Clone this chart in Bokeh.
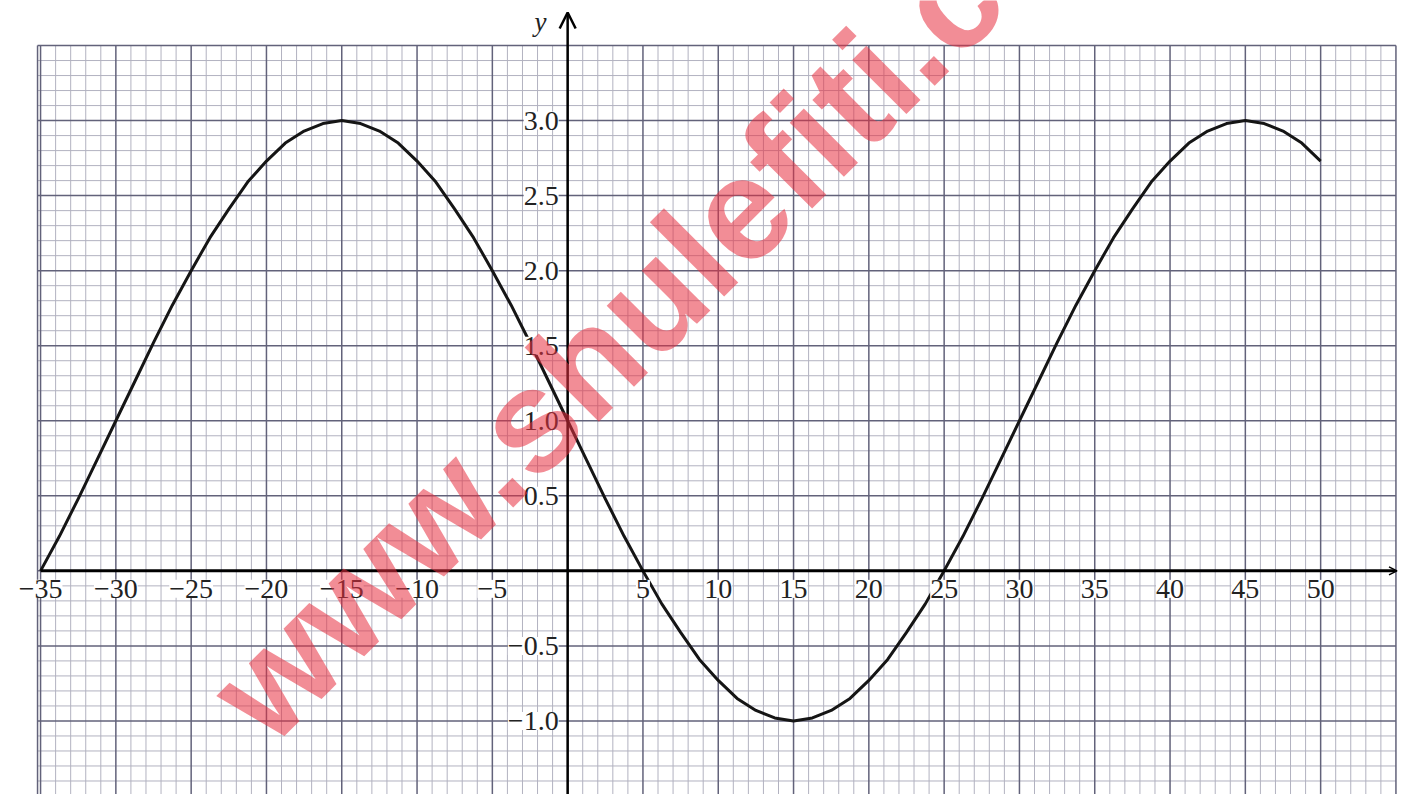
import numpy as np
from bokeh.plotting import figure
from bokeh.models import Range1d, Arrow, OpenHead, Label, LabelSet, ColumnDataSource
from bokeh.core.properties import value
from bokeh.embed import file_html
from bokeh.resources import INLINE

# ---- data ----
x_vals = [-35, -33.75, -32.5, -31.25, -30, -28.75, -27.5, -26.25, -25, -23.75, -22.5, -21.25,
          -20, -18.75, -17.5, -16.25, -15, -13.75, -12.5, -11.25, -10, -8.75, -7.5, -6.25,
          -5, -3.75, -2.5, -1.25, 0, 1.25, 2.5, 3.75, 5, 6.25, 7.5, 8.75, 10, 11.25, 12.5,
          13.75, 15, 16.25, 17.5, 18.75, 20, 21.25, 22.5, 23.75, 25, 26.25, 27.5, 28.75, 30,
          31.25, 32.5, 33.75, 35, 36.25, 37.5, 38.75, 40, 41.25, 42.5, 43.75, 45, 46.25, 47.5,
          48.75, 50]
y_vals = [0.00, 0.23, 0.48, 0.74, 1.00, 1.26, 1.52, 1.77, 2.00, 2.22, 2.41, 2.59,
          2.73, 2.85, 2.93, 2.98, 3.00, 2.98, 2.93, 2.85, 2.73, 2.59, 2.41, 2.22,
          2.00, 1.77, 1.52, 1.26, 1.00, 0.74, 0.48, 0.23, 0.00, -0.22, -0.41, -0.59, -0.73,
          -0.85, -0.93, -0.98, -1.00, -0.98, -0.93, -0.85, -0.73, -0.59, -0.41, -0.22, 0.00,
          0.23, 0.48, 0.74, 1.00, 1.26, 1.52, 1.77, 2.00, 2.22, 2.41, 2.59, 2.73, 2.85, 2.93,
          2.98, 3.00, 2.98, 2.93, 2.85, 2.73]

x_ticks = [-35, -30, -25, -20, -15, -10, -5, 5, 10, 15, 20, 25, 30, 35, 40, 45, 50]
x_tick_labels = ["\u221235", "\u221230", "\u221225", "\u221220", "\u221215", "\u221210", "\u22125",
                 "5", "10", "15", "20", "25", "30", "35", "40", "45", "50"]
y_ticks = [3.0, 2.5, 2.0, 1.5, 1.0, 0.5, -0.5, -1.0]
y_tick_labels = ["3.0", "2.5", "2.0", "1.5", "1.0", "0.5", "\u22120.5", "\u22121.0"]

watermark = "www.shulefiti.co.ke"

# ---- layout ----
W, H = 1398, 794
X0, X1 = -37.66, 55.17
Y0, Y1 = -1.49, 3.80
PAPER_X = (-35.2, 55.0)
PAPER_Y = (-1.6, 3.5)

p = figure(width=W, height=H, x_range=Range1d(X0, X1), y_range=Range1d(Y0, Y1),
           output_backend="svg", toolbar_location=None, min_border=0)
p.axis.visible = False
p.grid.visible = False
p.outline_line_color = None
p.background_fill_color = "white"
p.border_fill_color = "white"

# graph paper
minor_x = [v for v in np.arange(-35, 56, 1) if v % 5 != 0]
major_x = [v for v in np.arange(-35, 56, 5)]
minor_y = [round(v, 2) for v in np.arange(-1.6, 3.51, 0.1) if abs(round(v * 2, 3) - round(v * 2)) > 1e-6]
major_y = [round(v, 2) for v in np.arange(-1.5, 3.51, 0.5)]

p.segment(x0=minor_x, y0=PAPER_Y[0], x1=minor_x, y1=PAPER_Y[1], line_color="#b2b2c0", line_width=1)
p.segment(x0=PAPER_X[0], y0=minor_y, x1=PAPER_X[1], y1=minor_y, line_color="#b2b2c0", line_width=1)
p.segment(x0=major_x, y0=PAPER_Y[0], x1=major_x, y1=PAPER_Y[1], line_color="#62627a", line_width=1.5)
p.segment(x0=PAPER_X[0], y0=major_y, x1=PAPER_X[1], y1=major_y, line_color="#62627a", line_width=1.5)
p.segment(x0=PAPER_X[0], y0=PAPER_Y[0], x1=PAPER_X[0], y1=PAPER_Y[1], line_color="#62627a", line_width=1.5)

# axes
p.add_layout(Arrow(x_start=0, y_start=Y0, x_end=0, y_end=3.72, line_width=2.5, line_color="black",
                   end=OpenHead(size=16, line_width=2.5, line_color="black")))
p.add_layout(Arrow(x_start=-35, y_start=0, x_end=X1 - 0.1, y_end=0, line_width=3, line_color="black",
                   end=OpenHead(size=8, line_width=1.5, line_color="black")))

# tick labels (white background like the printed paper)
xsrc = ColumnDataSource(dict(x=x_ticks, y=[0] * len(x_ticks), t=x_tick_labels))
p.add_layout(LabelSet(x="x", y="y", text="t", source=xsrc, text_font=value("Liberation Serif"),
                      text_font_size=value("28px"), text_align="center", text_baseline="top",
                      y_offset=-9, text_color="#222222", background_fill_color="white",
                      background_fill_alpha=1.0))
ysrc = ColumnDataSource(dict(x=[0] * len(y_ticks), y=y_ticks, t=y_tick_labels))
p.add_layout(LabelSet(x="x", y="y", text="t", source=ysrc, text_font=value("Liberation Serif"),
                      text_font_size=value("28px"), text_align="right", text_baseline="middle",
                      x_offset=-9, text_color="#222222", background_fill_color="white",
                      background_fill_alpha=1.0))

p.add_layout(Label(x=-1.8, y=3.66, text="y", text_font="Liberation Serif", text_font_style="italic",
                   text_font_size="27px", text_color="#222222", text_align="center",
                   text_baseline="middle"))

# curve
p.line(x_vals, y_vals, line_color="#151515", line_width=3, line_join="round")

# watermark
p.add_layout(Label(x=235, y=80, x_units="screen", y_units="screen", text=watermark,
                   angle=45, angle_units="deg", text_font="Liberation Sans", text_font_style="bold",
                   text_font_size="145px", text_color="#e8303f", text_alpha=0.55,
                   text_align="left", text_baseline="alphabetic"))

open("out.html", "w").write(file_html(p, INLINE))
